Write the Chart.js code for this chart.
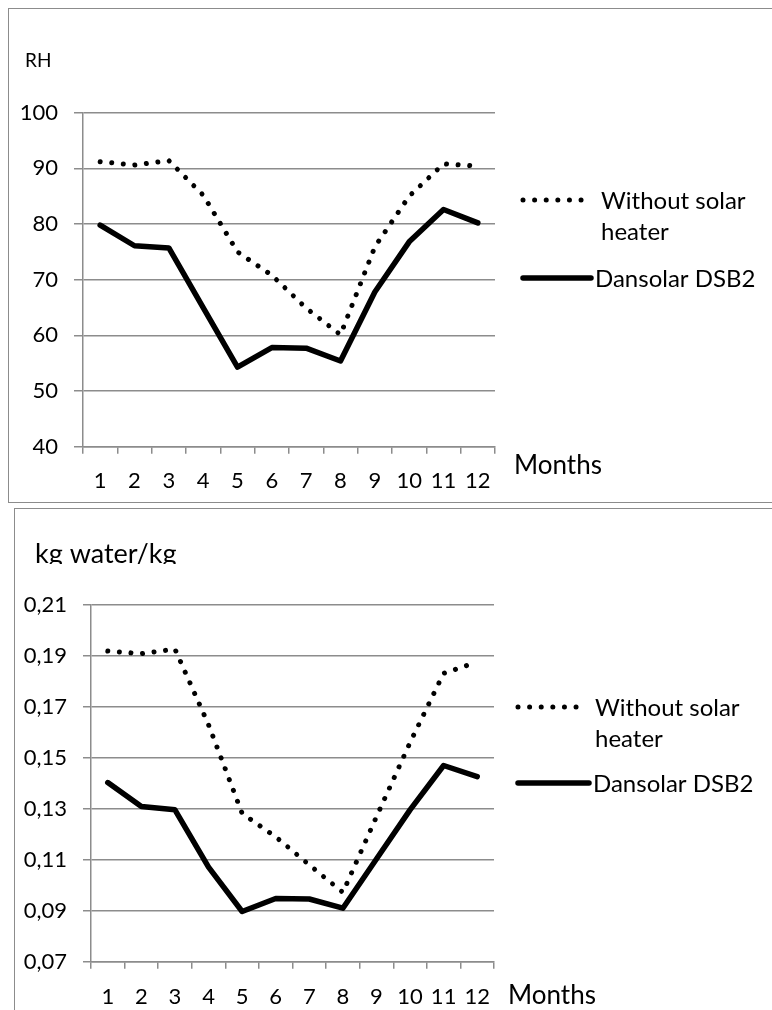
<!DOCTYPE html>
<html>
<head>
<meta charset="utf-8">
<script src="https://cdn.jsdelivr.net/npm/chart.js@4.4.0/dist/chart.umd.min.js"></script>
<style>
  html, body { margin: 0; padding: 0; background: #fff; overflow: hidden; }
  body { width: 772px; height: 1010px; position: relative; }
  .box { position: absolute; border: 1.5px solid #8c8c8c; }
  canvas { position: absolute; left: 0; }
</style>
</head>
<body>
<div class="box" style="left:8px; top:8px; width:800px; height:493px;"></div>
<div class="box" style="left:14px; top:508px; width:800px; height:600px;"></div>
<canvas id="rhChart" width="772" height="505" style="top:0"></canvas>
<canvas id="kgChart" width="772" height="505" style="top:505px"></canvas>
<script>
// data
const months = ['1', '2', '3', '4', '5', '6', '7', '8', '9', '10', '11', '12'];

const rhWithout = [91.2, 90.6, 91.4, 85.2, 75.0, 70.8, 64.9, 60.1, 75.9, 85.0, 90.8, 90.4];
const rhDansolar = [79.8, 76.1, 75.7, 65.0, 54.3, 57.8, 57.7, 55.4, 67.8, 76.8, 82.6, 80.2];
const rhTicks = [40, 50, 60, 70, 80, 90, 100];

const kgWithout = [0.1919, 0.1909, 0.1927, 0.163, 0.1282, 0.119, 0.108, 0.0972, 0.1269, 0.156, 0.1832, 0.1876];
const kgDansolar = [0.1403, 0.1309, 0.1296, 0.1071, 0.0897, 0.0948, 0.0946, 0.091, 0.1103, 0.1296, 0.147, 0.1426];
const kgTicks = [0.07, 0.09, 0.11, 0.13, 0.15, 0.17, 0.19, 0.21];

const withoutLabel = ['Without solar', 'heater'];
const dansolarLabel = ['Dansolar DSB2'];

const gridColor = '#8c8c8c';
Chart.defaults.font.family = 'Lato';
Chart.defaults.color = '#000';

// draws the axis title, the "Months" label and the legend
const overlay = {
    id: 'overlay',
    afterDraw(chart, args, opts) {
        const ctx = chart.ctx;
        ctx.save();
        ctx.fillStyle = '#000';
        ctx.textAlign = 'left';

        // unit label at the top left
        const t = opts.title;
        ctx.save();
        if (t.clip) {
            ctx.beginPath();
            ctx.rect(0, 0, chart.width, t.y + 1);
            ctx.clip();
        }
        ctx.font = t.size + 'px Lato';
        ctx.textBaseline = 'alphabetic';
        ctx.fillText(t.text, t.x, t.y);
        ctx.restore();

        ctx.font = opts.months.size + 'px Lato';
        ctx.textBaseline = 'middle';
        ctx.fillText('Months', opts.months.x, opts.months.y);

        const lg = opts.legend;
        ctx.font = lg.size + 'px Lato';
        ctx.textBaseline = 'alphabetic';
        chart.data.datasets.forEach((ds, i) => {
            const y = lg.ys[i];
            ctx.save();
            ctx.strokeStyle = ds.borderColor;
            ctx.lineWidth = ds.borderWidth;
            ctx.lineCap = 'round';
            ctx.setLineDash(ds.borderDash || []);
            ctx.beginPath();
            ctx.moveTo(lg.x0, y);
            ctx.lineTo(lg.x1[i], y);
            ctx.stroke();
            ctx.restore();
            const lines = Array.isArray(ds.label) ? ds.label : [ds.label];
            lines.forEach((line, k) => {
                ctx.fillText(line, lg.textX[i], y + 9 + k * lg.lineGap);
            });
        });
        ctx.restore();
    }
};

function makeChart(id, without, dansolar, ticks, fmt, box, extra) {
    const ctx = document.getElementById(id).getContext('2d');
    return new Chart(ctx, {
        type: 'line',
        data: {
            labels: months,
            datasets: [
                {
                    label: withoutLabel,
                    data: without,
                    borderColor: '#000',
                    borderWidth: 5,
                    borderDash: [0.01, 11.6],
                    borderCapStyle: 'round',
                    pointRadius: 0,
                    tension: 0,
                    fill: false
                },
                {
                    label: dansolarLabel,
                    data: dansolar,
                    borderColor: '#000',
                    borderWidth: 5.5,
                    borderCapStyle: 'round',
                    borderJoinStyle: 'round',
                    pointRadius: 0,
                    tension: 0,
                    fill: false
                }
            ]
        },
        options: {
            responsive: false,
            animation: false,
            devicePixelRatio: 1,
            layout: {
                padding: { left: 0, top: box.top, right: 772 - box.right, bottom: 0 }
            },
            scales: {
                x: {
                    type: 'category',
                    offset: true,
                    grid: {
                        offset: true,
                        drawOnChartArea: false,
                        drawTicks: true,
                        tickLength: 7,
                        color: gridColor,
                        lineWidth: 1.5
                    },
                    border: { color: gridColor, width: 1.5 },
                    ticks: {
                        font: { size: 22 },
                        color: '#000',
                        padding: box.xPad,
                        maxRotation: 0,
                        autoSkip: false
                    },
                    afterFit: s => { s.height = 505 - box.bottom; }
                },
                y: {
                    min: ticks[0],
                    max: ticks[ticks.length - 1],
                    afterBuildTicks: s => { s.ticks = ticks.map(v => ({ value: v })); },
                    grid: {
                        color: gridColor,
                        lineWidth: 1.5,
                        drawTicks: true,
                        tickLength: box.yTick
                    },
                    border: { color: gridColor, width: 1.5 },
                    ticks: {
                        font: { size: 22 },
                        color: '#000',
                        padding: 16,
                        callback: fmt
                    },
                    afterFit: s => { s.width = box.left; }
                }
            },
            plugins: {
                legend: { display: false },
                tooltip: { enabled: false },
                overlay: extra
            }
        },
        plugins: [overlay]
    });
}

makeChart('rhChart', rhWithout, rhDansolar, rhTicks,
    v => String(v),
    { left: 83, right: 495, top: 112.7, bottom: 446.7, xPad: 14, yTick: 9 },
    {
        title: { text: 'RH', x: 25, y: 67, size: 19, clip: false },
        months: { x: 514, y: 466, size: 26 },
        legend: { x0: 523, x1: [586, 591], textX: [601, 595], ys: [200, 278], lineGap: 31, size: 24 }
    });

makeChart('kgChart', kgWithout, kgDansolar, kgTicks,
    v => v.toFixed(2).replace('.', ','),
    { left: 91, right: 494, top: 100, bottom: 456.7, xPad: 15, yTick: 8 },
    {
        title: { text: 'kg water/kg', x: 35, y: 58, size: 27, clip: true },
        months: { x: 508, y: 491, size: 26 },
        legend: { x0: 518, x1: [580, 589], textX: [595, 593], ys: [202, 278], lineGap: 31, size: 24 }
    });
</script>
</body>
</html>
